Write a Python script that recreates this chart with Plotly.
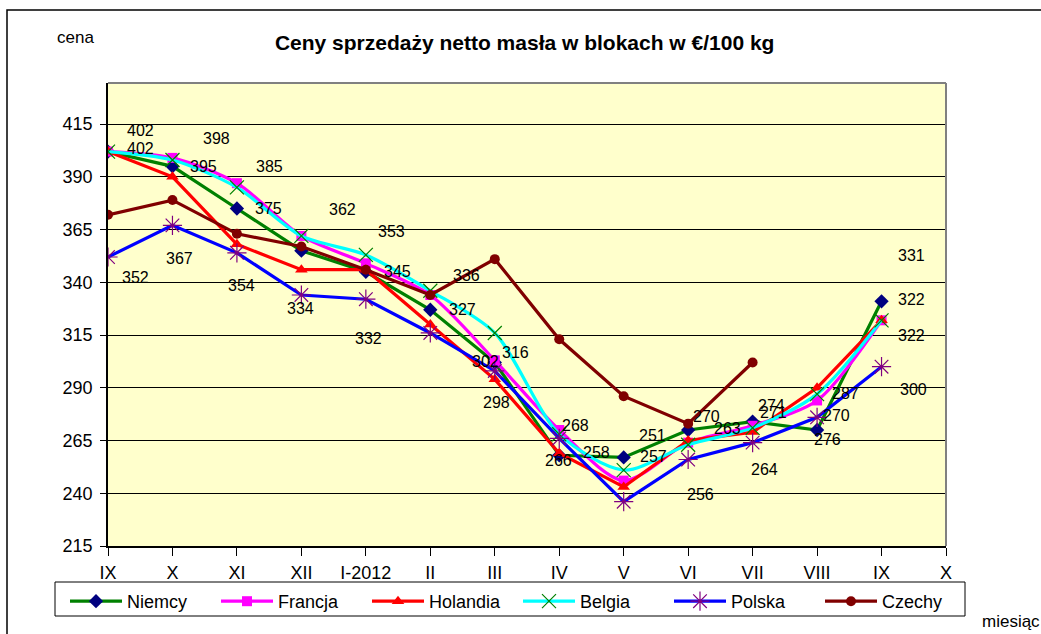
import plotly.graph_objects as go

# ---------------- data ----------------
months = ["IX", "X", "XI", "XII", "I-2012", "II", "III", "IV", "V", "VI", "VII", "VIII", "IX", "X"]

niemcy   = [402, 395, 375, 355, 345, 327, 302, 258, 257, 270, 274, 270, 331]
francja  = [402, 399, 387, 362, 349, 334, 303, 270, 246, 264, 272, 284, 322]
holandia = [402, 390, 358, 346, 346, 320, 294, 259, 243, 265, 269, 290, 322]
belgia   = [402, 398, 385, 362, 353, 336, 316, 268, 251, 263, 271, 287, 322]
polska   = [352, 367, 354, 334, 332, 316, 298, 266, 236, 256, 264, 276, 300]
czechy   = [372, 379, 363, 357, 346, 334, 351, 313, 286, 273, 302, None, None]

y_ticks = [215, 240, 265, 290, 315, 340, 365, 390, 415]

# which points carry a value label, and the label's pixel offset from its point
label_offsets = {
    "Niemcy": {0: (32, 3), 1: (31, 0), 2: (32, 0), 4: (32, 0), 5: (32, 0), 6: (-9, 1),
               7: (37, 3), 8: (30, 1), 9: (18, 13), 10: (19, 16), 11: (19, 14), 12: (30, 46)},
    "Belgia": {0: (32, 21), 1: (44, 21), 2: (33, 21), 3: (41, 26), 4: (26, 23), 5: (36, 15),
               6: (21, -20), 7: (16, 9), 8: (29, 35), 9: (39, 16), 10: (21, 15), 11: (28, 1),
               12: (30, -15)},
    "Polska": {0: (27, -20), 1: (7, -33), 2: (5, -33), 3: (-1, -14), 4: (3, -39), 6: (2, -32),
               7: (-1, -22), 9: (12, -35), 10: (12, -27), 11: (10, -22), 12: (32, -23)},
    "Francja": {12: (30, 21)},
}

FONT = "Liberation Sans, Arial, sans-serif"

series = [
    ("Niemcy", niemcy, dict(color="#008000", width=3.2), dict(symbol="diamond", size=11, color="#000080"), "linear"),
    ("Francja", francja, dict(color="#FF00FF", width=3.2), dict(symbol="square", size=10, color="#FF00FF"), "spline"),
    ("Holandia", holandia, dict(color="#FF0000", width=3.2), dict(symbol="triangle-up", size=11, color="#FF0000"), "linear"),
    ("Belgia", belgia, dict(color="#00FFFF", width=3.2), dict(symbol="x-thin", size=14, color="#008000",
                                                            line=dict(color="#008000", width=1.2)), "spline"),
    ("Polska", polska, dict(color="#0000FF", width=3.2), dict(symbol="asterisk", size=16, color="#800080",
                                                            line=dict(color="#800080", width=1.2)), "linear"),
    ("Czechy", czechy, dict(color="#800000", width=3.2), dict(symbol="circle", size=10, color="#800000"), "linear"),
]

fig = go.Figure()
xs = list(range(len(niemcy)))
annotations = []
for name, vals, line, marker, shape in series:
    fig.add_trace(go.Scatter(
        x=xs, y=vals, name=name, mode="lines+markers",
        line=dict(shape=shape, smoothing=0.8, **line) if shape == "spline" else line,
        marker=marker, connectgaps=False,
    ))
    for i, (dx, dy) in label_offsets.get(name, {}).items():
        annotations.append(dict(
            x=xs[i], y=vals[i], xref="x", yref="y", text=str(vals[i]), showarrow=False,
            xshift=dx, yshift=dy, font=dict(family=FONT, size=16, color="black"),
        ))

# plot area geometry (pixels) for paper-coordinate helpers
L, R, T, B = 108, 946, 83, 546
W, H = R - L, B - T


def px(xp):
    return (xp - L) / W


def py(yp):
    return (B - yp) / H


annotations += [
    dict(x=px(75), y=py(37), xref="paper", yref="paper", text="cena", showarrow=False,
         xanchor="center", yanchor="middle", font=dict(family=FONT, size=17, color="black")),
    dict(x=px(980), y=py(621), xref="paper", yref="paper", text="miesiąc", showarrow=False,
         xanchor="left", yanchor="middle", font=dict(family=FONT, size=17, color="black")),
]

shapes = [
    # outer chart frame
    dict(type="rect", xref="paper", yref="paper", x0=px(7), x1=px(1060), y0=py(660), y1=py(10),
         line=dict(color="black", width=1.5), fillcolor="rgba(0,0,0,0)", layer="below"),
    # legend frame
    dict(type="rect", xref="paper", yref="paper", x0=px(55), x1=px(965), y0=py(616), y1=py(582),
         line=dict(color="black", width=1), fillcolor="white", layer="below"),
    # plot area top / right border
    dict(type="line", xref="paper", yref="paper", x0=0, x1=1, y0=1, y1=1,
         line=dict(color="#808080", width=2)),
    dict(type="line", xref="paper", yref="paper", x0=1, x1=1, y0=0, y1=1,
         line=dict(color="#808080", width=2)),
]

fig.update_layout(
    width=1041, height=634,
    margin=dict(l=L, r=1041 - R, t=T, b=634 - B, pad=0, autoexpand=False),
    paper_bgcolor="white",
    plot_bgcolor="#FFFFCC",
    font=dict(family=FONT, size=18, color="black"),
    title=dict(text="<b>Ceny sprzedaży netto masła w blokach w €/100 kg</b>",
               xref="container", yref="container", x=0.504, y=1 - 43 / 634,
               xanchor="center", yanchor="middle",
               font=dict(family=FONT, size=21, color="black")),
    xaxis=dict(
        range=[0, len(months) - 1], tickmode="array", tickvals=list(range(len(months))),
        ticktext=months, showgrid=False, zeroline=False,
        showline=True, linecolor="black", linewidth=1.5,
        ticks="outside", ticklen=8, tickcolor="black", tickwidth=1,
        ticklabelstandoff=2, tickfont=dict(family=FONT, size=18),
    ),
    yaxis=dict(
        range=[215, 434.5], tickmode="array", tickvals=y_ticks,
        showgrid=True, gridcolor="black", gridwidth=1, zeroline=False,
        showline=True, linecolor="black", linewidth=1.5,
        ticks="outside", ticklen=6, tickcolor="black", tickwidth=1,
        ticklabelstandoff=4, tickfont=dict(family=FONT, size=18),
    ),
    legend=dict(
        orientation="h", x=px(65), xanchor="left", y=py(583), yanchor="top",
        borderwidth=0, bgcolor="rgba(0,0,0,0)",
        entrywidth=84, entrywidthmode="pixels", itemwidth=52,
        font=dict(family=FONT, size=18, color="black"), traceorder="normal",
    ),
    annotations=annotations,
    shapes=shapes,
    showlegend=True,
)

fig.write_html("out.html", config={"displayModeBar": False},
               post_script="document.body.style.margin='0';")
